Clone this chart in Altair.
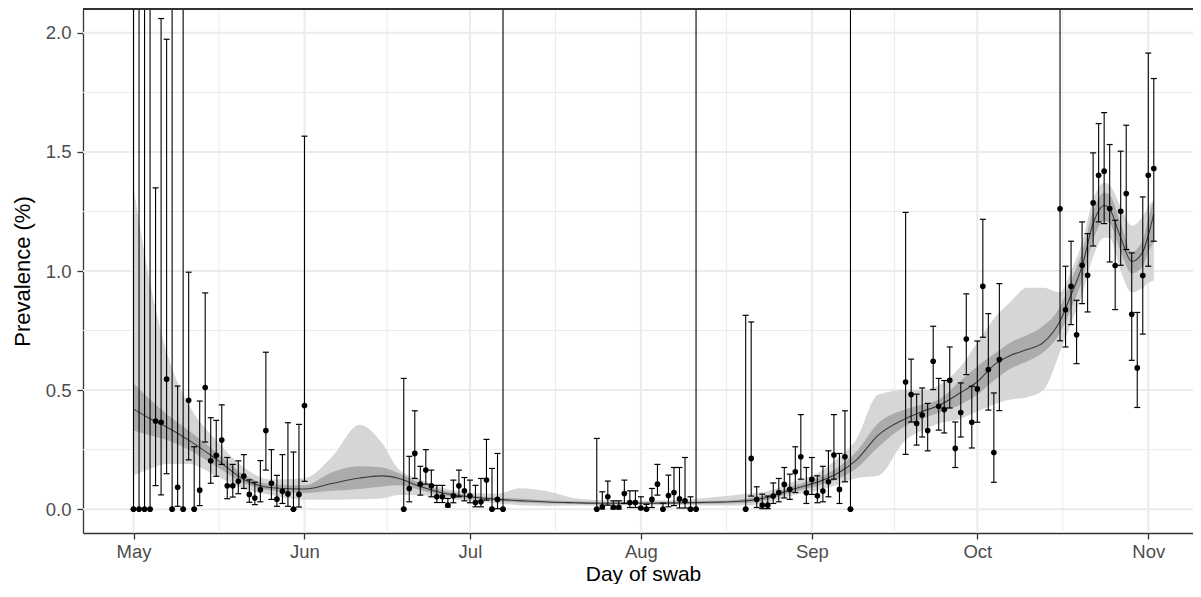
import altair as alt
import pandas as pd

START = pd.Timestamp("2020-05-01")
OPEN = 9.9  # open-ended upper limits, drawn past the top of the panel

# ---- observed daily prevalence (%) with 95% intervals; day = days after 1 May 2020
obs_day = [0, 1, 2, 3, 4, 5, 6, 7, 8, 9, 10, 11, 12, 13, 14, 15, 16, 17, 18, 19, 20,
           21, 22, 23, 24, 25, 26, 27, 28, 29, 30, 31,
           49, 50, 51, 52, 53, 54, 55, 56, 57, 58, 59, 60, 61, 62, 63, 64, 65, 66, 67,
           84, 85, 86, 87, 88, 89, 90, 91, 92, 93, 94, 95, 96, 97, 98, 99, 100, 101, 102,
           111, 112, 113, 114, 115, 116, 117, 118, 119, 120, 121, 122, 123, 124, 125, 126,
           127, 128, 129, 130,
           140, 141, 142, 143, 144, 145, 146, 147, 148, 149, 150, 151, 152, 153, 154, 155,
           156, 157,
           168, 169, 170, 171, 172, 173, 174, 175, 176, 177, 178, 179, 180, 181, 182, 183,
           184, 185]
obs_prev = [0, 0, 0, 0, 0.370, 0.365, 0.546, 0, 0.092, 0, 0.457, 0, 0.080, 0.511, 0.203,
            0.226, 0.290, 0.098, 0.098, 0.117, 0.139, 0.062, 0.047, 0.082, 0.330, 0.109,
            0.042, 0.075, 0.064, 0, 0.062, 0.435,
            0, 0.087, 0.234, 0.105, 0.164, 0.098, 0.052, 0.052, 0.017, 0.056, 0.098, 0.077,
            0.056, 0.028, 0.031, 0.122, 0, 0.041, 0,
            0, 0.010, 0.052, 0.008, 0.008, 0.066, 0.028, 0.028, 0.005, 0, 0.041, 0.105, 0,
            0.057, 0.070, 0.043, 0.035, 0, 0,
            0, 0.213, 0.041, 0.017, 0.017, 0.055, 0.070, 0.104, 0.083, 0.157, 0.220, 0.069,
            0.125, 0.056, 0.076, 0.115, 0.227, 0.083, 0.220, 0,
            0.534, 0.481, 0.360, 0.395, 0.330, 0.621, 0.432, 0.418, 0.541, 0.255, 0.406,
            0.714, 0.365, 0.505, 0.936, 0.586, 0.238, 0.628,
            1.261, 0.837, 0.936, 0.732, 1.024, 0.982, 1.286, 1.402, 1.419, 1.262, 1.023,
            1.251, 1.325, 0.818, 0.593, 0.981, 1.402, 1.430]
obs_lo = [0, 0, 0, 0, 0.099, 0.060, 0.149, 0, 0.012, 0, 0.207, 0, 0.015, 0.282, 0.109,
          0.138, 0.188, 0.044, 0.051, 0.065, 0.087, 0.029, 0.019, 0.031, 0.164, 0.041,
          0.012, 0.024, 0.012, 0, 0.009, 0.117,
          0, 0.031, 0.129, 0.059, 0.105, 0.052, 0.028, 0.028, 0.010, 0.027, 0.052, 0.035,
          0.027, 0.010, 0.010, 0.038, 0, 0.002, 0,
          0, 0.001, 0.017, 0.001, 0.001, 0.024, 0.007, 0.007, 0.001, 0, 0.007, 0.059, 0,
          0.010, 0.015, 0.005, 0.005, 0, 0,
          0, 0.055, 0.007, 0.002, 0.002, 0.024, 0.031, 0.047, 0.041, 0.070, 0.126, 0.024,
          0.062, 0.027, 0.031, 0.052, 0.126, 0.024, 0.115, 0,
          0.230, 0.366, 0.269, 0.303, 0.245, 0.502, 0.332, 0.320, 0.425, 0.175, 0.303,
          0.565, 0.257, 0.365, 0.722, 0.416, 0.113, 0.414,
          0.707, 0.681, 0.775, 0.611, 0.863, 0.828, 1.105, 1.206, 1.199, 1.038, 0.838,
          1.024, 1.090, 0.625, 0.427, 0.735, 1.020, 1.125]
obs_hi = [OPEN, OPEN, OPEN, OPEN, 1.349, 2.060, 1.973, OPEN, 0.517, OPEN, 0.995, 0.262,
          0.454, 0.908, 0.384, 0.373, 0.438, 0.217, 0.188, 0.203, 0.229, 0.123, 0.113,
          0.204, 0.659, 0.250, 0.142, 0.229, 0.363, 0.240, 0.356, 1.566,
          0.549, 0.222, 0.413, 0.180, 0.250, 0.164, 0.100, 0.100, 0.045, 0.122, 0.164,
          0.133, 0.122, 0.100, 0.129, 0.293, 0.171, 0.234, OPEN,
          0.297, 0.073, 0.118, 0.035, 0.035, 0.122, 0.077, 0.077, 0.052, 0.020, 0.087,
          0.188, 0.025, 0.143, 0.175, 0.175, 0.217, 0.052, OPEN,
          0.814, 0.786, 0.094, 0.063, 0.055, 0.110, 0.129, 0.175, 0.147, 0.262, 0.397,
          0.175, 0.217, 0.140, 0.180, 0.245, 0.397, 0.234, 0.413, OPEN,
          1.246, 0.630, 0.483, 0.509, 0.444, 0.768, 0.549, 0.540, 0.681, 0.366, 0.530,
          0.904, 0.516, 0.706, 1.217, 0.821, 0.488, 0.947,
          OPEN, 1.020, 1.125, 0.877, 1.206, 1.157, 1.496, 1.619, 1.665, 1.531, 1.213,
          1.503, 1.612, 1.076, 0.826, 1.311, 1.915, 1.808]

# ---- smoothed fit: median with 50% and 95% bands
fit_day = [0, 3, 6, 10, 15, 20, 25, 31, 36, 41, 45, 48, 52, 56, 61, 66, 70, 75, 80, 85,
           92, 100, 105, 110, 115, 119, 125, 128, 131, 135, 140, 143, 146, 150, 153, 156,
           159, 162, 165, 168, 170, 172, 174, 176, 177, 179, 181, 183, 184, 185]
fit_mid = [0.42, 0.38, 0.345, 0.29, 0.21, 0.125, 0.09, 0.085, 0.108, 0.131, 0.14, 0.13,
           0.095, 0.068, 0.052, 0.041, 0.036, 0.03, 0.027, 0.025, 0.025, 0.027, 0.029,
           0.033, 0.05, 0.08, 0.122, 0.155, 0.205, 0.31, 0.38, 0.41, 0.435, 0.49, 0.535,
           0.605, 0.645, 0.67, 0.70, 0.79, 0.90, 1.02, 1.20, 1.275, 1.26, 1.14, 1.04,
           1.08, 1.15, 1.24]
fit_lo50 = [0.33, 0.31, 0.29, 0.25, 0.18, 0.11, 0.078, 0.068, 0.077, 0.085, 0.095, 0.10,
            0.08, 0.058, 0.044, 0.034, 0.028, 0.024, 0.022, 0.02, 0.021, 0.022, 0.023,
            0.025, 0.04, 0.068, 0.105, 0.13, 0.17, 0.26, 0.35, 0.38, 0.405, 0.44, 0.48,
            0.54, 0.59, 0.62, 0.66, 0.74, 0.84, 0.96, 1.13, 1.21, 1.20, 1.08, 0.99, 1.02,
            1.08, 1.12]
fit_hi50 = [0.53, 0.46, 0.40, 0.33, 0.24, 0.145, 0.105, 0.10, 0.155, 0.18, 0.175, 0.152,
            0.11, 0.08, 0.06, 0.048, 0.045, 0.037, 0.033, 0.03, 0.03, 0.032, 0.035, 0.041,
            0.06, 0.092, 0.14, 0.18, 0.24, 0.36, 0.42, 0.44, 0.46, 0.54, 0.60, 0.65, 0.70,
            0.73, 0.77, 0.85, 0.96, 1.08, 1.25, 1.33, 1.32, 1.20, 1.08, 1.13, 1.22, 1.30]
fit_lo95 = [0.14, 0.17, 0.19, 0.19, 0.14, 0.085, 0.06, 0.04, 0.04, 0.042, 0.045, 0.06,
            0.06, 0.046, 0.034, 0.025, 0.016, 0.013, 0.015, 0.014, 0.016, 0.017, 0.015,
            0.015, 0.028, 0.055, 0.085, 0.105, 0.13, 0.14, 0.29, 0.33, 0.36, 0.38, 0.41,
            0.44, 0.46, 0.47, 0.50, 0.66, 0.78, 0.90, 1.06, 1.14, 1.14, 1.00, 0.91, 0.93,
            0.95, 0.96]
fit_hi95 = [1.35, 0.95, 0.66, 0.44, 0.29, 0.175, 0.125, 0.13, 0.22, 0.355, 0.28, 0.17,
            0.125, 0.09, 0.07, 0.065, 0.088, 0.075, 0.046, 0.038, 0.036, 0.04, 0.05, 0.062,
            0.076, 0.11, 0.165, 0.22, 0.29, 0.48, 0.50, 0.50, 0.52, 0.60, 0.70, 0.80, 0.87,
            0.93, 0.93, 0.91, 1.00, 1.12, 1.30, 1.37, 1.36, 1.27, 1.19, 1.23, 1.27, 1.30]

# ---- axis breaks
x_major = ["2020-05-01T00:00:00", "2020-06-01T00:00:00", "2020-07-01T00:00:00",
           "2020-08-01T00:00:00", "2020-09-01T00:00:00", "2020-10-01T00:00:00",
           "2020-11-01T00:00:00"]
x_minor = ["2020-05-16T12:00:00", "2020-06-16T00:00:00", "2020-07-16T12:00:00",
           "2020-08-16T12:00:00", "2020-09-16T00:00:00", "2020-10-16T12:00:00"]
y_major = [0.0, 0.5, 1.0, 1.5, 2.0]
y_minor = [0.25, 0.75, 1.25, 1.75]

# ---- tables
obs = pd.DataFrame({
    "date": [START + pd.Timedelta(days=d) for d in obs_day],
    "prev": obs_prev, "lo": obs_lo, "hi": obs_hi,
})
obs["cap0"] = obs["date"] - pd.Timedelta(hours=13)
obs["cap1"] = obs["date"] + pd.Timedelta(hours=13)
fit = pd.DataFrame({
    "date": [START + pd.Timedelta(days=d) for d in fit_day],
    "mid": fit_mid, "lo50": fit_lo50, "hi50": fit_hi50, "lo95": fit_lo95, "hi95": fit_hi95,
})
gx = pd.DataFrame({"date": pd.to_datetime(x_major + x_minor, format="ISO8601"),
                   "w": [2.0] * len(x_major) + [1.0] * len(x_minor)})
gy = pd.DataFrame({"v": y_major + y_minor,
                   "w": [2.0] * len(y_major) + [1.0] * len(y_minor)})

W, H = 1110, 524
FONT = "Liberation Sans"
xs = alt.Scale(domain=[alt.DateTime(year=2020, month=4, date=21, hours=20, minutes=10),
                       alt.DateTime(year=2020, month=11, date=9, hours=2, minutes=38)])
ys = alt.Scale(domain=[-0.1, 2.1], nice=False, zero=False)

xaxis = alt.Axis(values=[alt.DateTime(year=2020, month=m, date=1) for m in range(5, 12)],
                 format="%b", grid=False, labelOverlap=False, labelFlush=False,
                 tickSize=6, labelPadding=18, labelBaseline="alphabetic",
                 titleX=560, titleY=47.5, titleBaseline="alphabetic", titleAlign="center",
                 titleFontSize=21)
yaxis = alt.Axis(values=y_major, format=".1f", grid=False, labelOverlap=False,
                 tickSize=6, labelPadding=6, titleX=-61, titleY=H / 2,
                 titleAngle=-90, titleBaseline="middle", titleAlign="center")

X = alt.X("date:T", scale=xs, axis=xaxis, title="Day of swab")
Y = alt.Y("prev:Q", scale=ys, axis=yaxis, title="Prevalence (%)")

grid_v = alt.Chart(gx).mark_rule(color="#EBEBEB", clip=True).encode(
    x=alt.X("date:T", scale=xs, axis=xaxis, title="Day of swab"),
    strokeWidth=alt.StrokeWidth("w:Q", scale=None, legend=None))
grid_h = alt.Chart(gy).mark_rule(color="#EBEBEB", clip=True).encode(
    y=alt.Y("v:Q", scale=ys, axis=yaxis, title="Prevalence (%)"),
    strokeWidth=alt.StrokeWidth("w:Q", scale=None, legend=None))

band95 = alt.Chart(fit).mark_area(color="#D6D6D6", interpolate="monotone", clip=True).encode(
    x=X, y=alt.Y("lo95:Q", scale=ys, axis=yaxis, title="Prevalence (%)"), y2="hi95:Q")
band50 = alt.Chart(fit).mark_area(color="#ABABAB", interpolate="monotone", clip=True).encode(
    x=X, y=alt.Y("lo50:Q", scale=ys, axis=yaxis, title="Prevalence (%)"), y2="hi50:Q")
line = alt.Chart(fit).mark_line(color="#3A3A3A", strokeWidth=1.1, interpolate="monotone",
                                clip=True).encode(
    x=X, y=alt.Y("mid:Q", scale=ys, axis=yaxis, title="Prevalence (%)"))

bars = alt.Chart(obs).mark_rule(color="black", strokeWidth=1.1, clip=True).encode(
    x=X, y=alt.Y("lo:Q", scale=ys, axis=yaxis, title="Prevalence (%)"), y2="hi:Q")
caps_hi = alt.Chart(obs).mark_rule(color="black", strokeWidth=1.2, clip=True).encode(
    x=alt.X("cap0:T", scale=xs, axis=xaxis, title="Day of swab"), x2="cap1:T",
    y=alt.Y("hi:Q", scale=ys, axis=yaxis, title="Prevalence (%)"))
caps_lo = alt.Chart(obs).mark_rule(color="black", strokeWidth=1.2, clip=True).encode(
    x=alt.X("cap0:T", scale=xs, axis=xaxis, title="Day of swab"), x2="cap1:T",
    y=alt.Y("lo:Q", scale=ys, axis=yaxis, title="Prevalence (%)"))
points = alt.Chart(obs).mark_circle(color="black", size=32, opacity=1, clip=True).encode(
    x=X, y=Y)

top_border = alt.Chart(gy).mark_rule(color="#333333", strokeWidth=1.3).encode(
    x=alt.value(0), x2=alt.value(W), y=alt.value(0))

chart = alt.layer(
    grid_v, grid_h, band95, band50, line, bars, caps_hi, caps_lo, points, top_border
).properties(
    width=W, height=H,
    autosize=alt.AutoSizeParams(type="none"),
    padding={"left": 75, "top": 1, "right": 0, "bottom": 51},
).configure_view(stroke=None).configure_axis(
    domainColor="#333333", domainWidth=1.3, tickColor="#333333", tickWidth=1.3,
    labelColor="#4D4D4D", labelFont=FONT, labelFontSize=18.5,
    titleFont=FONT, titleFontSize=22, titleColor="black", titleFontWeight="normal",
)

chart.save("out.html", embed_options={"renderer": "svg", "actions": False})
